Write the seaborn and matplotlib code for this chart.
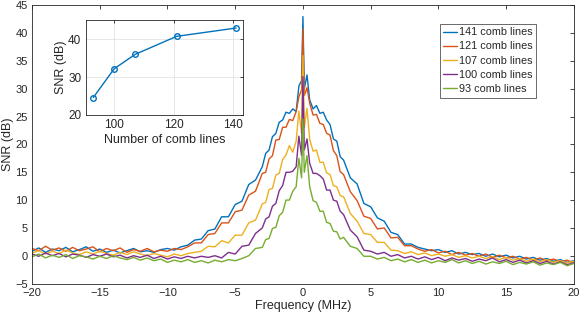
import numpy as np
import pandas as pd
import matplotlib
matplotlib.use("Agg")
import matplotlib.pyplot as plt
import seaborn as sns

# frequency grid (MHz)
freq = [-20, -19.5, -19, -18.5, -18, -17.5, -17, -16.5, -16, -15.5, -15, -14.5, -14, -13.5,
        -13, -12.5, -12, -11.5, -11, -10.5, -10, -9.5, -9, -8.5, -8, -7.5, -7, -6.5, -6,
        -5.5, -5, -4.5, -4, -3.5,
        -3, -2.75, -2.5, -2.25, -2, -1.75, -1.5, -1.25, -1, -0.75, -0.5,
        -0.3, -0.1, 0, 0.1, 0.3,
        0.5, 0.75, 1, 1.25, 1.5, 1.75, 2, 2.25, 2.5, 2.75, 3,
        3.5, 4, 4.5, 5, 5.5, 6, 6.5, 7, 7.5, 8, 8.5, 9, 9.5, 10, 10.5, 11, 11.5, 12,
        12.5, 13, 13.5, 14, 14.5, 15, 15.5, 16, 16.5, 17, 17.5, 18, 18.5, 19, 19.5, 20]

snr_141 = [0.8, 1.4, 0.6, 1.2, 0.9, 1.5, 0.7, 1.1, 1.6, 0.8, 1.2, 0.6, 1.0, 0.5,
           0.9, 1.3, 0.7, 0.9, 0.6, 1.1, 1.3, 1.0, 1.6, 1.9, 2.8, 3.0, 4.5, 4.8, 7.0,
           7.0, 9.2, 9.8, 12.8, 13.6,
           16.0, 18.4, 19.0, 21.4, 22.0, 24.0, 24.4, 25.8, 25.6, 26.4, 25.9,
           30.5, 31.5, 43.0, 30.0, 32.5,
           28.0, 26.4, 27.0, 25.6, 25.8, 24.4, 23.6, 21.0, 20.6, 17.8, 17.2,
           14.0, 12.9, 9.4, 8.8, 6.8, 6.2, 4.2, 3.8, 2.1, 2.1, 1.5, 1.2, 0.9, 1.1, 0.6,
           0.9, 0.3, 0.6, 0.2, 0.4, -0.1, 0.3, -0.2, 0.1, -0.4, -0.1, -0.6, -0.3, -0.8,
           -0.5, -1.0, -0.7, -1.2, -0.9]

snr_121 = [1.3, 0.9, 1.7, 1.0, 1.4, 0.8, 1.5, 0.9, 1.2, 1.6, 0.7, 1.3, 0.9, 1.4,
           0.6, 1.1, 0.8, 1.3, 0.7, 1.0, 0.8, 1.3, 1.1, 1.6, 2.3, 2.3, 3.8, 4.0, 5.9,
           5.9, 7.9, 8.2, 10.9, 11.6,
           14.8, 15.0, 17.4, 18.0, 20.8, 20.9, 23.1, 23.1, 24.5, 24.3, 25.9,
           28.6, 29.8, 40.8, 28.8, 30.2,
           27.4, 25.3, 25.4, 23.8, 23.6, 22.0, 21.7, 18.9, 18.0, 15.1, 14.6,
           11.5, 9.9, 7.1, 6.7, 4.8, 5.0, 3.2, 3.3, 1.8, 1.8, 1.2, 0.8, 1.1, 0.5, 0.8,
           0.2, 0.6, 0.1, 0.4, -0.1, 0.3, -0.3, 0.1, -0.4, -0.1, -0.6, -0.3, -0.8, -0.4,
           -0.9, -0.6, -1.1, -0.8, -1.3]

snr_107 = [0.5, 0.9, 0.3, 0.8, 0.4, 1.0, 0.5, 0.2, 0.7, 0.3, 0.8, 0.4, 0.1, 0.6,
           0.2, 0.7, 0.3, 0.0, 0.4, 0.1, -0.2, 0.3, 0.0, 0.4, 0.6, 0.8, 1.7, 1.6, 2.7,
           2.3, 3.7, 3.7, 5.9, 6.4,
           9.3, 9.6, 11.9, 12.1, 14.5, 14.8, 17.3, 18.1, 19.8, 18.6, 20.6,
           26.0, 22.0, 36.0, 23.0, 26.5,
           20.9, 18.8, 19.0, 16.8, 16.8, 14.9, 14.6, 12.6, 12.4, 10.8, 10.6,
           7.6, 6.2, 4.0, 3.8, 2.4, 2.4, 1.0, 0.9, 0.4, 0.7, 0.2, 0.5, 0.0, 0.3, -0.1,
           0.2, -0.3, 0.0, -0.4, -0.1, -0.5, -0.2, -0.7, -0.3, -0.8, -0.5, -1.0, -0.6,
           -1.1, -0.7, -1.2, -0.9, -1.3, -1.0]

snr_100 = [0.3, -0.1, 0.5, 0.0, 0.4, -0.2, 0.3, 0.1, -0.3, 0.2, -0.1, 0.3, -0.2, 0.1,
           -0.4, 0.0, -0.3, 0.1, -0.5, -0.1, -0.6, -0.2, -0.5, -0.1, -0.4, -0.1, -0.3,
           0.0, -0.4, 0.6, 0.3, 1.7, 1.9, 4.0,
           5.0, 6.6, 7.0, 8.9, 9.4, 11.7, 12.6, 15.0, 15.0, 15.2, 16.0,
           21.5, 18.0, 32.2, 19.0, 21.0,
           16.6, 14.8, 14.8, 14.4, 13.8, 11.8, 11.8, 10.0, 9.8, 8.0, 7.4,
           4.6, 3.4, 1.0, 0.8, 0.3, 0.6, -0.1, 0.2, -0.4, -0.1, -0.6, -0.2, -0.7, -0.3,
           -0.9, -0.4, -0.8, -0.5, -1.0, -0.6, -0.9, -0.4, -1.1, -0.7, -1.2, -0.8, -1.3,
           -0.9, -1.4, -1.0, -1.5, -1.1, -1.6, -1.3]

snr_93 = [-0.2, 0.3, -0.4, 0.1, -0.3, 0.2, -0.5, 0.0, -0.2, -0.6, -0.1, -0.5, 0.0, -0.4,
          -0.7, -0.3, -0.8, -0.4, -0.9, -0.6, -1.2, -0.8, -1.1, -0.7, -1.2, -0.9, -1.3,
          -0.8, -1.1, -0.7, -0.9, -0.5, 0.0, 1.3,
          1.5, 2.9, 3.1, 4.9, 5.1, 7.2, 7.8, 10.0, 10.0, 11.6, 12.4,
          17.5, 14.0, 24.6, 15.0, 18.0,
          12.4, 9.9, 9.6, 8.0, 8.0, 6.0, 5.8, 4.4, 4.3, 3.0, 3.3,
          1.7, 1.3, -0.1, -0.1, -0.6, -0.3, -0.9, -0.6, -1.1, -0.7, -1.2, -0.8, -1.3, -0.9,
          -1.2, -0.7, -1.3, -0.9, -1.4, -1.0, -1.5, -1.1, -1.4, -1.0, -1.6, -1.2, -1.5,
          -1.1, -1.7, -1.3, -1.6, -1.2, -1.8, -1.4]

series_labels = ["141 comb lines", "121 comb lines", "107 comb lines",
                 "100 comb lines", "93 comb lines"]
colors = ["#0072BD", "#D95319", "#EDB120", "#7E2F8E", "#77AC30"]

# inset: peak SNR vs number of comb lines
comb_lines = [93, 100, 107, 121, 141]
peak_snr = [24.6, 32.2, 36.0, 40.8, 43.0]


def main():
    sns.set_style("white")
    plt.rcParams["font.family"] = ["Liberation Sans", "DejaVu Sans"]
    plt.rcParams["axes.edgecolor"] = "#262626"
    plt.rcParams["text.color"] = "#262626"
    plt.rcParams["xtick.color"] = "#262626"
    plt.rcParams["ytick.color"] = "#262626"
    plt.rcParams["axes.labelcolor"] = "#262626"

    frames = []
    for lab, vals in zip(series_labels, [snr_141, snr_121, snr_107, snr_100, snr_93]):
        frames.append(pd.DataFrame({"freq": freq, "snr": vals, "series": lab}))
    df = pd.concat(frames, ignore_index=True)

    fig = plt.figure(figsize=(5.82, 3.2), dpi=100)
    ax = fig.add_axes([0.055, 0.114, 0.931, 0.869])
    sns.lineplot(data=df, x="freq", y="snr", hue="series", hue_order=series_labels,
                 palette=colors, estimator=None, linewidth=1.0, ax=ax)

    ax.set_xlim(-20, 20)
    ax.set_ylim(-5, 45)
    ax.set_xticks(range(-20, 21, 5))
    ax.set_yticks(range(-5, 46, 5))
    ax.set_xlabel("Frequency (MHz)", fontsize=9, labelpad=2)
    ax.set_ylabel("SNR (dB)", fontsize=9, labelpad=1)
    ax.tick_params(direction="in", length=3, width=0.6, labelsize=8,
                   top=True, right=True, pad=3)
    for s in ax.spines.values():
        s.set_linewidth(0.6)

    leg = ax.legend(loc="upper right", bbox_to_anchor=(0.93, 0.935), fontsize=7.8,
                    frameon=True, fancybox=False, edgecolor="#262626",
                    handlelength=1.25, handletextpad=0.15, borderpad=0.35,
                    labelspacing=0.38, borderaxespad=0)
    leg.get_frame().set_linewidth(0.6)

    # inset axes
    axin = fig.add_axes([0.147, 0.641, 0.271, 0.295])
    sns.lineplot(x=comb_lines, y=peak_snr, color="#0072BD", marker="o",
                 markersize=4, markerfacecolor="none", markeredgecolor="#0072BD",
                 markeredgewidth=1.0, linewidth=1.0, ax=axin)
    axin.set_xlim(90.4, 143.4)
    axin.set_ylim(20, 45)
    axin.set_xticks([100, 120, 140])
    axin.set_yticks([20, 30, 40])
    axin.grid(True, color="#e3e3e3", linewidth=0.6)
    axin.set_axisbelow(True)
    axin.set_xlabel("Number of comb lines", fontsize=9, labelpad=2)
    axin.set_ylabel("SNR (dB)", fontsize=9, labelpad=1)
    axin.tick_params(direction="in", length=2.5, width=0.6, labelsize=8.5,
                     top=True, right=True, pad=3)
    for s in axin.spines.values():
        s.set_linewidth(0.6)

    fig.savefig("out.png", dpi=100)
    plt.close(fig)


if __name__ == "__main__":
    main()
